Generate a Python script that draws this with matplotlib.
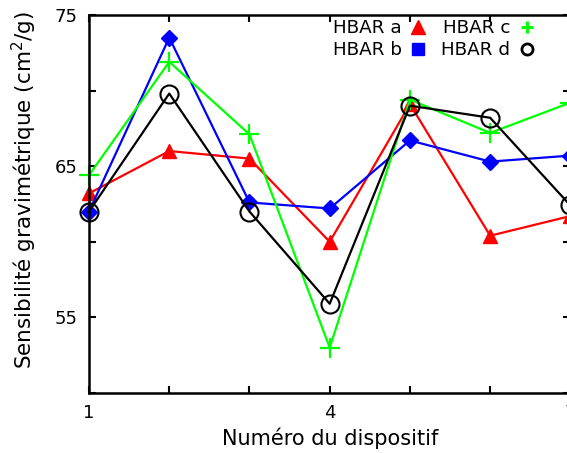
import matplotlib
matplotlib.use("Agg")
import matplotlib.pyplot as plt
from matplotlib.lines import Line2D

# numero du dispositif
dispositif = [1, 2, 3, 4, 5, 6, 7]

# sensibilite gravimetrique (cm2/g)
hbar_a = [63.2, 66.0, 65.5, 60.0, 69.1, 60.4, 61.7]
hbar_b = [62.0, 73.5, 62.6, 62.2, 66.7, 65.3, 65.7]
hbar_c = [64.4, 71.9, 67.1, 53.0, 69.4, 67.2, 69.2]
hbar_d = [62.0, 69.8, 62.0, 55.9, 69.0, 68.2, 62.4]

x_labels = ['1', '', '', '4', '', '', '7']
y_ticks = [50, 55, 60, 65, 70, 75]
y_labels = ['', '55', '', '65', '', '75']

fig = plt.figure(figsize=(5.67, 4.53), dpi=100)
ax = fig.add_axes([0.157, 0.1325, 0.849, 0.8345])

lw = 1.6
ax.plot(dispositif, hbar_a, color='#ff0000', lw=lw, marker='^', ms=10, clip_on=False)
ax.plot(dispositif, hbar_b, color='#0000ff', lw=lw, marker='D', ms=8, clip_on=False)
ax.plot(dispositif, hbar_c, color='#00ff00', lw=lw, marker='+', ms=15, mew=1.6, clip_on=False)
ax.plot(dispositif, hbar_d, color='black', lw=lw, marker='o', ms=13, mfc='none', mew=1.5, clip_on=False)

ax.set_xlim(1, 7)
ax.set_ylim(50, 75)
ax.set_xticks(dispositif)
ax.set_xticklabels(x_labels)
ax.set_yticks(y_ticks)
ax.set_yticklabels(y_labels)
ax.tick_params(direction='in', top=True, right=True, length=5, width=1.5,
               labelsize=13, pad=8)
for s in ax.spines.values():
    s.set_linewidth(1.8)

ax.set_xlabel('Numéro du dispositif', fontsize=15, labelpad=4)
ax.set_ylabel('Sensibilité gravimétrique (cm$^2$/g)', fontsize=15.5)
ax.yaxis.set_label_coords(-0.103, 0.537)

handles = [
    Line2D([], [], ls='none', marker='^', color='#ff0000', ms=10),
    Line2D([], [], ls='none', marker='s', color='#0000ff', ms=8),
    Line2D([], [], ls='none', marker='+', color='#00ff00', ms=8, mew=2.2),
    Line2D([], [], ls='none', marker='o', color='black', mfc='none', ms=8, mew=2),
]
names = ['HBAR a', 'HBAR b', 'HBAR c', 'HBAR d']
ax.legend(handles, names, ncol=2, markerfirst=False, frameon=False,
          fontsize=13.2, loc='upper right', bbox_to_anchor=(0.955, 1.022),
          handlelength=1.0, handletextpad=0.4, columnspacing=0.75,
          labelspacing=0.22, borderpad=0.2)

fig.savefig('out.png', dpi=100)
